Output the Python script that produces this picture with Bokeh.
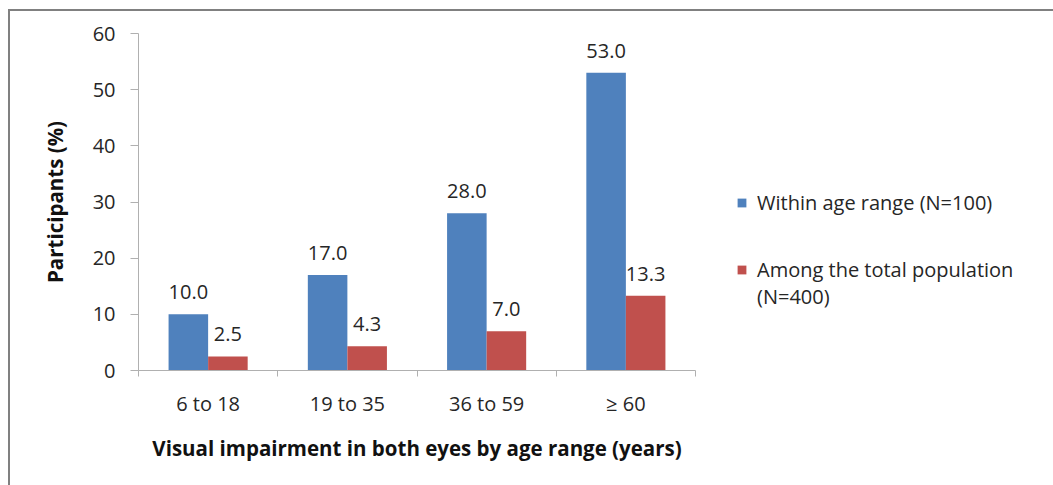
from bokeh.plotting import figure
from bokeh.models import (ColumnDataSource, Range1d, FixedTicker, LabelSet, Legend,
                          LegendItem, InlineStyleSheet)
from bokeh.core.properties import value
from bokeh.transform import dodge
from bokeh.embed import file_html
from bokeh.resources import INLINE

# Age ranges and the two series (percent of participants)
categories = ["6 to 18", "19 to 35", "36 to 59", "\u2265 60"]
within_age_range = [10.0, 17.0, 28.0, 53.0]
total_population = [2.5, 4.3, 7.0, 13.3]
y_ticks = [0, 10, 20, 30, 40, 50, 60]
series_names = ["Within age range (N=100)", "Among the total population\n(N=400)"]

FONT = "Open Sans"
TEXT = "#262626"
AXIS = "#b0b0b0"
BLUE = "#4f81bd"
RED = "#c0504d"
FS = "20px"
TITLE_FS = "20.5px"

centers = [i + 0.5 for i in range(len(categories))]
src = ColumnDataSource(dict(
    x=centers,
    within=within_age_range,
    total=total_population,
    within_lbl=[f"{v:.1f}" for v in within_age_range],
    total_lbl=[f"{v:.1f}" for v in total_population],
))

p = figure(frame_width=557, frame_height=337, output_backend="svg",
           toolbar_location=None,
           x_range=Range1d(0, len(categories)), y_range=Range1d(0, 60),
           min_border_left=138, min_border_right=0, min_border_top=33,
           min_border_bottom=115)
p.outline_line_color = None
p.xgrid.visible = False
p.ygrid.visible = False
p.background_fill_color = "white"
p.border_fill_color = "white"

bw = 0.284
r1 = p.vbar(x=dodge("x", -bw / 2, range=p.x_range), top="within", width=bw,
            source=src, fill_color=BLUE, line_color=None)
r2 = p.vbar(x=dodge("x", bw / 2, range=p.x_range), top="total", width=bw,
            source=src, fill_color=RED, line_color=None)

for col, ycol, off in (("within_lbl", "within", -bw / 2), ("total_lbl", "total", bw / 2)):
    p.add_layout(LabelSet(x=dodge("x", off, range=p.x_range), y=ycol, text=col,
                          source=src, text_align="center", text_baseline="bottom",
                          y_offset=15, text_font=value(FONT), text_font_size=FS,
                          text_color=TEXT))

# x axis: category names at the bar groups, tick marks at the boundaries
xa = p.xaxis[0]
xa.ticker = FixedTicker(ticks=centers, minor_ticks=list(range(len(categories) + 1)))
xa.major_label_overrides = {c: name for c, name in zip(centers, categories)}
xa.major_tick_out = 0
xa.major_tick_in = 0
xa.minor_tick_out = 6
xa.minor_tick_in = 0
xa.minor_tick_line_color = AXIS
xa.axis_line_color = AXIS
xa.major_label_standoff = 13
xa.major_label_text_font = FONT
xa.major_label_text_font_size = FS
xa.major_label_text_color = TEXT
xa.axis_label = "Visual impairment in both eyes by age range (years)"
xa.axis_label_text_font = FONT
xa.axis_label_text_font_size = TITLE_FS
xa.axis_label_text_font_style = "bold"
xa.axis_label_text_color = "#111111"
xa.axis_label_standoff = 14

ya = p.yaxis[0]
ya.ticker = FixedTicker(ticks=y_ticks, minor_ticks=[])
ya.major_tick_out = 8
ya.major_tick_in = 0
ya.major_tick_line_color = AXIS
ya.axis_line_color = AXIS
ya.major_label_standoff = 15
ya.major_label_text_font = FONT
ya.major_label_text_font_size = FS
ya.major_label_text_color = TEXT
ya.axis_label = "Participants (%)"
ya.axis_label_text_font = FONT
ya.axis_label_text_font_size = TITLE_FS
ya.axis_label_text_font_style = "bold"
ya.axis_label_text_color = "#111111"
ya.axis_label_standoff = 21

# the leading blank line keeps the red swatch beside the first line of its label
legend = Legend(items=[
    LegendItem(label=series_names[0], renderers=[r1]),
    LegendItem(label="\n" + series_names[1], renderers=[r2]),
], location=(41, 60), glyph_width=11, glyph_height=11, label_standoff=10,
    spacing=13, padding=0, margin=0, border_line_alpha=0, background_fill_alpha=0,
    label_text_font=FONT, label_text_font_size=FS, label_text_color=TEXT,
    label_text_line_height=1.3)
p.add_layout(legend, "right")

# thin grey frame around the whole chart (top and left edges are visible)
p.stylesheets = [InlineStyleSheet(css="""
:host::after {
  content: "";
  position: absolute;
  left: 8px; top: 9px; right: -400px; bottom: -400px;
  border-top: 2px solid #808080;
  border-left: 2px solid #808080;
  pointer-events: none;
}
""")]

open("out.html", "w").write(file_html(p, INLINE))
